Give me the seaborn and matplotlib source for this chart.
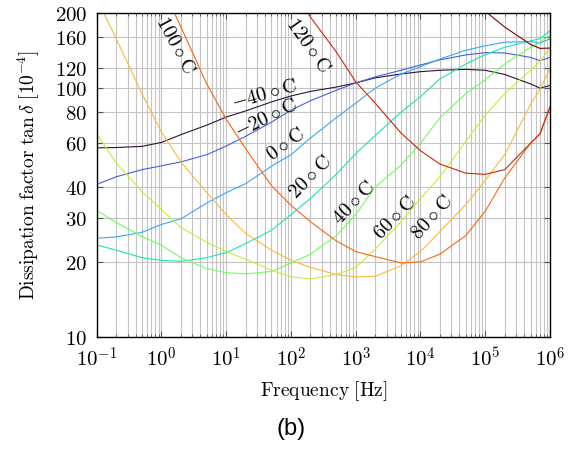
import numpy as np
import pandas as pd
import seaborn as sns
import matplotlib.pyplot as plt
from matplotlib.ticker import FixedLocator, FixedFormatter, NullLocator, LogLocator, NullFormatter

plt.rcParams['mathtext.fontset'] = 'cm'

# frequency grid [Hz]
freq = [0.1, 0.2, 0.5, 1, 2, 5, 10, 20, 50, 100, 200, 500,
        1e3, 2e3, 5e3, 1e4, 2e4, 5e4, 1e5, 2e5, 5e5, 7e5, 1e6]

nan = np.nan
# tan delta [1e-4] per temperature
tan_m40 = [57.5, 57.7, 58.3, 60.5, 65, 71, 76.5, 81, 88, 93, 97, 101,
           105, 110, 114, 116.5, 118, 119, 118, 113.5, 104, 100, 102.5]
tan_m20 = [41, 44, 47, 48.7, 50.5, 54, 58.5, 64, 73, 81.5, 89, 98,
           105, 111, 118, 124, 130, 136, 139, 138.5, 133, 129, 133]
tan_0 = [24.9, 25.2, 26.3, 28.3, 29.8, 34.5, 38, 41.3, 48.5, 54, 63, 76,
         87, 100, 114, 122, 131, 142, 148, 153, 154, 152, 158]
tan_20 = [23.4, 22.3, 20.8, 20.3, 20.1, 20.8, 21.8, 23.7, 26.8, 31, 36, 45,
          54.5, 64.5, 80, 92.5, 109, 125, 136.5, 146, 155, 158, 170]
tan_40 = [32.2, 28.8, 25.3, 23.3, 20.8, 18.8, 18.1, 17.9, 18.3, 19.8, 21.5, 25.5,
          31, 40, 49, 60, 76, 95, 108, 125, 146, 153, 163]
tan_60 = [65.5, 50, 38.4, 32.5, 27.5, 24, 22, 20.5, 18.5, 17.4, 17.1, 17.8,
          19, 22.5, 29, 36, 44, 61, 78, 95, 118, 128, 145]
tan_80 = [230, 158, 95, 66.5, 50.5, 38, 31, 26, 22.3, 20.3, 19, 17.8,
          17.4, 17.5, 19.3, 22, 26.5, 34, 42.5, 54, 86, 99, 120]
tan_100 = [nan, nan, nan, 260, 176, 104, 75, 57, 40.5, 33.8, 29, 24.3,
           22, 21, 19.8, 20, 21.5, 25.5, 32, 43.5, 60, 65.5, 84]
tan_120 = [nan, nan, nan, nan, nan, nan, nan, nan, nan, 255, 193, 140,
           106, 87, 66, 56, 49.5, 45.5, 45, 47, 60, 65.5, 84]
tan_140 = [nan, nan, nan, nan, nan, nan, nan, nan, nan, nan, nan, nan,
           nan, nan, nan, nan, nan, 235, 204, 176, 150, 144.5, 145]

temps = [-40, -20, 0, 20, 40, 60, 80, 100, 120, 140]
series = [tan_m40, tan_m20, tan_0, tan_20, tan_40, tan_60, tan_80, tan_100, tan_120, tan_140]

y_ticks = [10, 20, 30, 40, 60, 80, 100, 120, 160, 200]
x_ticks = [1e-1, 1e0, 1e1, 1e2, 1e3, 1e4, 1e5, 1e6]
x_labels = [r'$10^{-1}$', r'$10^{0}$', r'$10^{1}$', r'$10^{2}$',
            r'$10^{3}$', r'$10^{4}$', r'$10^{5}$', r'$10^{6}$']

# curve labels: temperature, position (Hz, value), rotation
label_temps = [-40, -20, 0, 20, 40, 60, 80, 100, 120]
label_pos = [(39.7, 94.7), (41.1, 75.8), (83.7, 59.6), (197, 43.9), (940, 34.5),
             (4040, 30.1), (15100, 30.1), (1.62, 149), (183, 149)]
label_rot = [16, 26, 36, 45, 46, 46, 48, -62, -55]

rows = []
for t, vals in zip(temps, series):
    for f, v in zip(freq, vals):
        rows.append({'freq': f, 'tand': v, 'temp': str(t)})
df = pd.DataFrame(rows).dropna()

cmap = plt.get_cmap('turbo')
palette = {str(t): cmap(i / (len(temps) - 1)) for i, t in enumerate(temps)}

fig = plt.figure(figsize=(5.74, 4.53), dpi=100)
ax = fig.add_axes([0.1685, 0.2567, 0.7897, 0.7139])
ax.set_xscale('log')
ax.set_yscale('log')

sns.lineplot(data=df, x='freq', y='tand', hue='temp', palette=palette,
             estimator=None, legend=False, linewidth=0.8, ax=ax)

ax.set_xlim(0.1, 1e6)
ax.set_ylim(10, 200)

ax.xaxis.set_major_locator(FixedLocator(x_ticks))
ax.xaxis.set_major_formatter(FixedFormatter(x_labels))
ax.xaxis.set_minor_locator(LogLocator(base=10, subs=np.arange(2, 10), numticks=20))
ax.xaxis.set_minor_formatter(NullFormatter())
ax.yaxis.set_major_locator(FixedLocator(y_ticks))
ax.yaxis.set_major_formatter(FixedFormatter([r'$%d$' % v for v in y_ticks]))
ax.yaxis.set_minor_locator(NullLocator())

ax.grid(True, which='both', color='#c4c4c4', linewidth=0.8)
ax.set_axisbelow(True)
ax.tick_params(which='both', direction='in', top=True, right=True, color='#555555',
               labelsize=15)
ax.tick_params(which='major', length=4, width=0.8, pad=7)
ax.tick_params(which='minor', length=2.5, width=0.6)
for s in ax.spines.values():
    s.set_linewidth(1.0)

ax.set_xlabel(r'$\mathrm{Frequency\ [Hz]}$', fontsize=14, labelpad=6)
ax.set_ylabel(r'$\mathrm{Dissipation\ factor\ }\tan\delta\ [10^{-4}]$', fontsize=14, labelpad=9)

for t, (fx, fy), r in zip(label_temps, label_pos, label_rot):
    txt = r'$%d\circ\mathrm{C}$' % t if t >= 0 else r'$-%d\circ\mathrm{C}$' % (-t)
    ax.text(fx, fy, txt, rotation=r, rotation_mode='anchor', ha='center', va='center',
            fontsize=14.5)

fig.text(0.507, 0.053, '(b)', fontsize=17, family='Liberation Sans', ha='center', va='center')

fig.savefig('out.png', dpi=100)
